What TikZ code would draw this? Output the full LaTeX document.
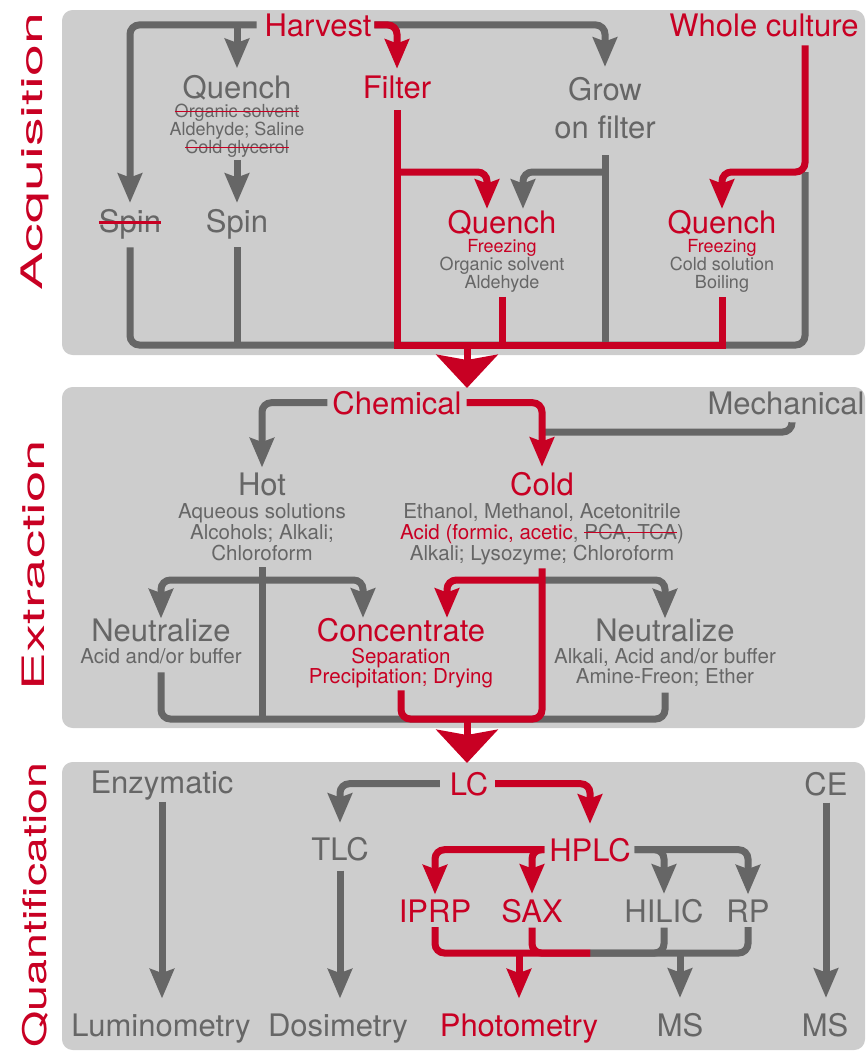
\documentclass[tikz,border=0pt]{standalone}
\usepackage{fontspec}
\setmainfont{TeX Gyre Heros}
\usepackage{graphicx}
\usetikzlibrary{arrows.meta,calc}
\definecolor{myred}{RGB}{200,0,35}
\definecolor{mygray}{RGB}{102,102,102}
\definecolor{panelgray}{RGB}{205,205,205}
\newsavebox\xstbox
\newcommand\xstrike[1]{\sbox\xstbox{#1}\rlap{\usebox\xstbox}\textcolor{myred}{\rule[0.27em]{\wd\xstbox}{0.075em}}}
\begin{document}
\begin{tikzpicture}[x=0.75pt,y=-0.75pt,
  every node/.style={inner sep=0pt, outer sep=0pt, anchor=base},
  big/.style={font=\fontsize{23.25}{28}\selectfont},
  smA/.style={font=\fontsize{13.5}{16}\selectfont},
  smB/.style={font=\fontsize{15.4}{18}\selectfont},
  rt/.style={text=myred}, gt/.style={text=mygray},
  gl/.style={draw=mygray, line width=5.25pt, rounded corners=7pt},
  rl/.style={draw=myred, line width=5.25pt, rounded corners=7pt},
  arr/.style={-{Stealth[length=22pt,width=18pt,inset=3pt]}},
  bigarr/.style={-{Stealth[length=25pt,width=46pt,inset=4pt]}},
  panel/.style={fill=panelgray, rounded corners=8pt},
  lab/.style={anchor=center, rotate=90, text=myred}]
\useasboundingbox (0,0) rectangle (866,1051);
\fill[panel] (62,10) rectangle (865,355);
\fill[panel] (62,387) rectangle (865,728);
\fill[panel] (62,762) rectangle (865,1050);

\node[lab] (labA) at (35,151.5) {\resizebox*{207.75pt}{21pt}{Acquisition}};
\node[lab] (labE) at (33.5,565) {\resizebox*{187.5pt}{17.25pt}{Extraction}};
\node[lab] (labQ) at (35.5,905) {\resizebox*{213.75pt}{19.5pt}{Quantification}};

% ---------- Panel 1 ----------
\node[big,rt] (harvest) at (318,36) {Harvest};
\node[big,rt] (whole) at (764,36) {Whole culture};
\node[big,gt] (quenchA) at (237,98) {Quench};
\node[smA,gt] (qa1) at (237,117) {\xstrike{Organic solvent}};
\node[smA,gt] (qa2) at (237,135) {Aldehyde; Saline};
\node[smA,gt] (qa3) at (237,153) {\xstrike{Cold glycerol}};
\node[big,rt] (filter) at (397,98) {Filter};
\node[big,gt] (grow) at (605,100) {Grow};
\node[big,gt] (onfilter) at (605,138) {on filter};
\node[big,gt] (spinX) at (130,232) {\xstrike{Spin}};
\node[big,gt] (spin) at (237,232) {Spin};
\node[big,rt] (quenchB) at (502,233) {Quench};
\node[smA,rt] (qb1) at (502,252) {Freezing};
\node[smA,gt] (qb2) at (502,270) {Organic solvent};
\node[smA,gt] (qb3) at (502,288) {Aldehyde};
\node[big,rt] (quenchC) at (722,233) {Quench};
\node[smA,rt] (qc1) at (722,252) {Freezing};
\node[smA,gt] (qc2) at (722,270) {Cold solution};
\node[smA,gt] (qc3) at (722,288) {Boiling};

\coordinate (bar1) at (0,345);
\coordinate (j1) at (0,172);
\coordinate (wx) at (805,0);
\coordinate (big1s) at (467,345);
\coordinate (big1t) at (467,388);

\draw[gl,arr,shorten <=6pt,shorten >=4.5pt] (harvest.west) -| (spinX.north);
\draw[gl,arr,shorten >=5pt] (harvest.west -| quenchA.north) -- (quenchA.north);
\draw[gl,arr,shorten <=2.25pt,shorten >=4.5pt] (qa3.south) -- (spin.north);
\draw[gl,arr,shorten <=2.25pt,shorten >=7.5pt] (harvest.east) -| (grow.north);
\draw[gl,shorten <=6.4pt] (spinX.south) |- (wx |- bar1) -- (wx |- j1);
\draw[gl,shorten <=6.4pt] (spin.south) -- (spin.south |- bar1);
\draw[gl,shorten <=12.75pt] (onfilter.south) -- (onfilter.south |- bar1);
\draw[gl,arr,shorten >=0.75pt] (onfilter.south |- j1) -| ($(quenchB.north)+(21,0)$);

\draw[rl,arr,shorten <=2.25pt,shorten >=5pt] (harvest.east) -| (filter.north);
\draw[rl,sharp corners,shorten <=9pt] (filter.south) |- (qc3.south |- bar1) -- ($(qc3.south)+(0,5)$);
\draw[rl,shorten <=3.75pt] (qb3.south) -- (qb3.south |- bar1);
\draw[rl,arr,shorten >=0.75pt] (filter.south |- j1) -| ($(quenchB.north)+(-15,0)$);
\draw[rl,arr,shorten <=6.75pt,shorten >=0.75pt] ($(whole.south)+(41,0)$) -- (wx |- j1) -| (quenchC.north);
\draw[rl,bigarr] (big1s) -- (big1t);

% ---------- Panel 2 ----------
\node[big,rt] (chem) at (397,414) {Chemical};
\node[big,gt] (mech) at (786,414) {Mechanical};
\node[big,gt] (hot) at (262,495) {Hot};
\node[smB,gt] (h1) at (262,518) {Aqueous solutions};
\node[smB,gt] (h2) at (262,539) {Alcohols; Alkali;};
\node[smB,gt] (h3) at (262,560) {Chloroform};
\node[big,rt] (cold) at (542,495) {Cold};
\node[smB,gt] (c1) at (542,518) {Ethanol, Methanol, Acetonitrile};
\node[smB,gt] (c2) at (542,539) {\textcolor{myred}{Acid (formic, acetic}, \xstrike{PCA, TCA})};
\node[smB,gt] (c3) at (542,560) {Alkali; Lysozyme; Chloroform};
\node[big,gt] (neuL) at (161,641) {Neutralize};
\node[smB,gt] (nl1) at (161,663) {Acid and/or buffer};
\node[big,rt] (conc) at (401,641) {Concentrate};
\node[smB,rt] (co1) at (401,663) {Separation};
\node[smB,rt] (co2) at (401,683) {Precipitation; Drying};
\node[big,gt] (neuR) at (665,641) {Neutralize};
\node[smB,gt] (nr1) at (665,663) {Alkali, Acid and/or buffer};
\node[smB,gt] (nr2) at (665,683) {Amine-Freon; Ether};

\coordinate (mj) at (0,432);
\coordinate (j2) at (0,580);
\coordinate (bar2) at (0,719);
\coordinate (big2s) at (467,719);
\coordinate (big2t) at (467,763);

\draw[gl,arr,shorten <=3.75pt,shorten >=3.75pt] (chem.west) -| (hot.north);
\draw[gl,shorten <=6pt] ($(mech.south)+(6,0)$) |- (cold.north |- mj);
\draw[gl,shorten <=5.25pt] (h3.south) -- (h3.south |- bar2);
\draw[gl,arr] (h3.south |- j2) -| (neuL.north);
\draw[gl,arr] (h3.south |- j2) -| ($(conc.north)+(-38,0)$);
\draw[gl,arr] (c3.south |- j2) -| (neuR.north);
\draw[gl,shorten <=6.75pt,shorten >=5pt] (nl1.south) |- (nr2.south |- bar2) -- (nr2.south);

\draw[rl,arr,shorten <=3.75pt,shorten >=3.75pt] (chem.east) -| (cold.north);
\draw[rl,shorten <=2.25pt,shorten >=3pt] (co2.south) |- (c3.south |- bar2) -- (c3.south);
\draw[rl,arr] (c3.south |- j2) -| ($(conc.north)+(46,0)$);
\draw[rl,bigarr] (big2s) -- (big2t);

% ---------- Panel 3 ----------
\node[big,gt] (enz) at (162,793) {Enzymatic};
\node[big,rt] (lc) at (469,795) {LC};
\node[big,gt] (ce) at (826,795) {CE};
\node[big,gt] (tlc) at (340,860) {TLC};
\node[big,rt] (hplc) at (590,861) {HPLC};
\node[big,rt] (iprp) at (435,922) {IPRP};
\node[big,rt] (sax) at (532,922) {SAX};
\node[big,gt] (hilic) at (664,922) {HILIC};
\node[big,gt] (rp) at (748,922) {RP};
\node[big,gt] (lum) at (161,1036) {Luminometry};
\node[big,gt] (dos) at (338,1036) {Dosimetry};
\node[big,rt] (phot) at (519,1036) {Photometry};
\node[big,gt] (ms1) at (680,1036) {MS};
\node[big,gt] (ms2) at (825,1036) {MS};

\coordinate (bar3) at (0,953);
\coordinate (m3) at (590,953);

\draw[gl,arr,shorten <=1.5pt,shorten >=11.25pt] (enz.south) -- (enz.south |- lum.north);
\draw[gl,arr,shorten <=7.5pt,shorten >=10.5pt] (lc.west) -| (tlc.north);
\draw[gl,arr,shorten <=7.5pt,shorten >=11.25pt] (tlc.south) -- (tlc.south |- dos.north);
\draw[gl,arr,shorten <=3pt,shorten >=3.75pt] (hplc.east) -| (hilic.north);
\draw[gl,arr,shorten <=3pt,shorten >=3.75pt] (hplc.east) -| (rp.north);
\draw[gl,shorten <=3.75pt] (hilic.south) |- (m3);
\draw[gl,shorten >=3.75pt] (m3) -| (rp.south);
\draw[gl,arr,shorten >=11.25pt] (ms1.north |- bar3) -- (ms1.north);
\draw[gl,arr,shorten <=5.25pt,shorten >=11.25pt] (ce.south) -- (ce.south |- ms2.north);

\draw[rl,arr,shorten <=5.25pt,shorten >=10.5pt] (lc.east) -| (hplc.north);
\draw[rl,arr,shorten <=3.75pt,shorten >=3.75pt] (hplc.west) -| (iprp.north);
\draw[rl,arr,shorten <=3.75pt,shorten >=3.75pt] (hplc.west) -| (sax.north);
\draw[rl,shorten <=3.75pt] (iprp.south) |- (m3);
\draw[rl,shorten <=3.75pt] (sax.south) |- (m3);
\draw[rl,arr,shorten >=11.25pt] (phot.north |- bar3) -- (phot.north);
\end{tikzpicture}
\end{document}
